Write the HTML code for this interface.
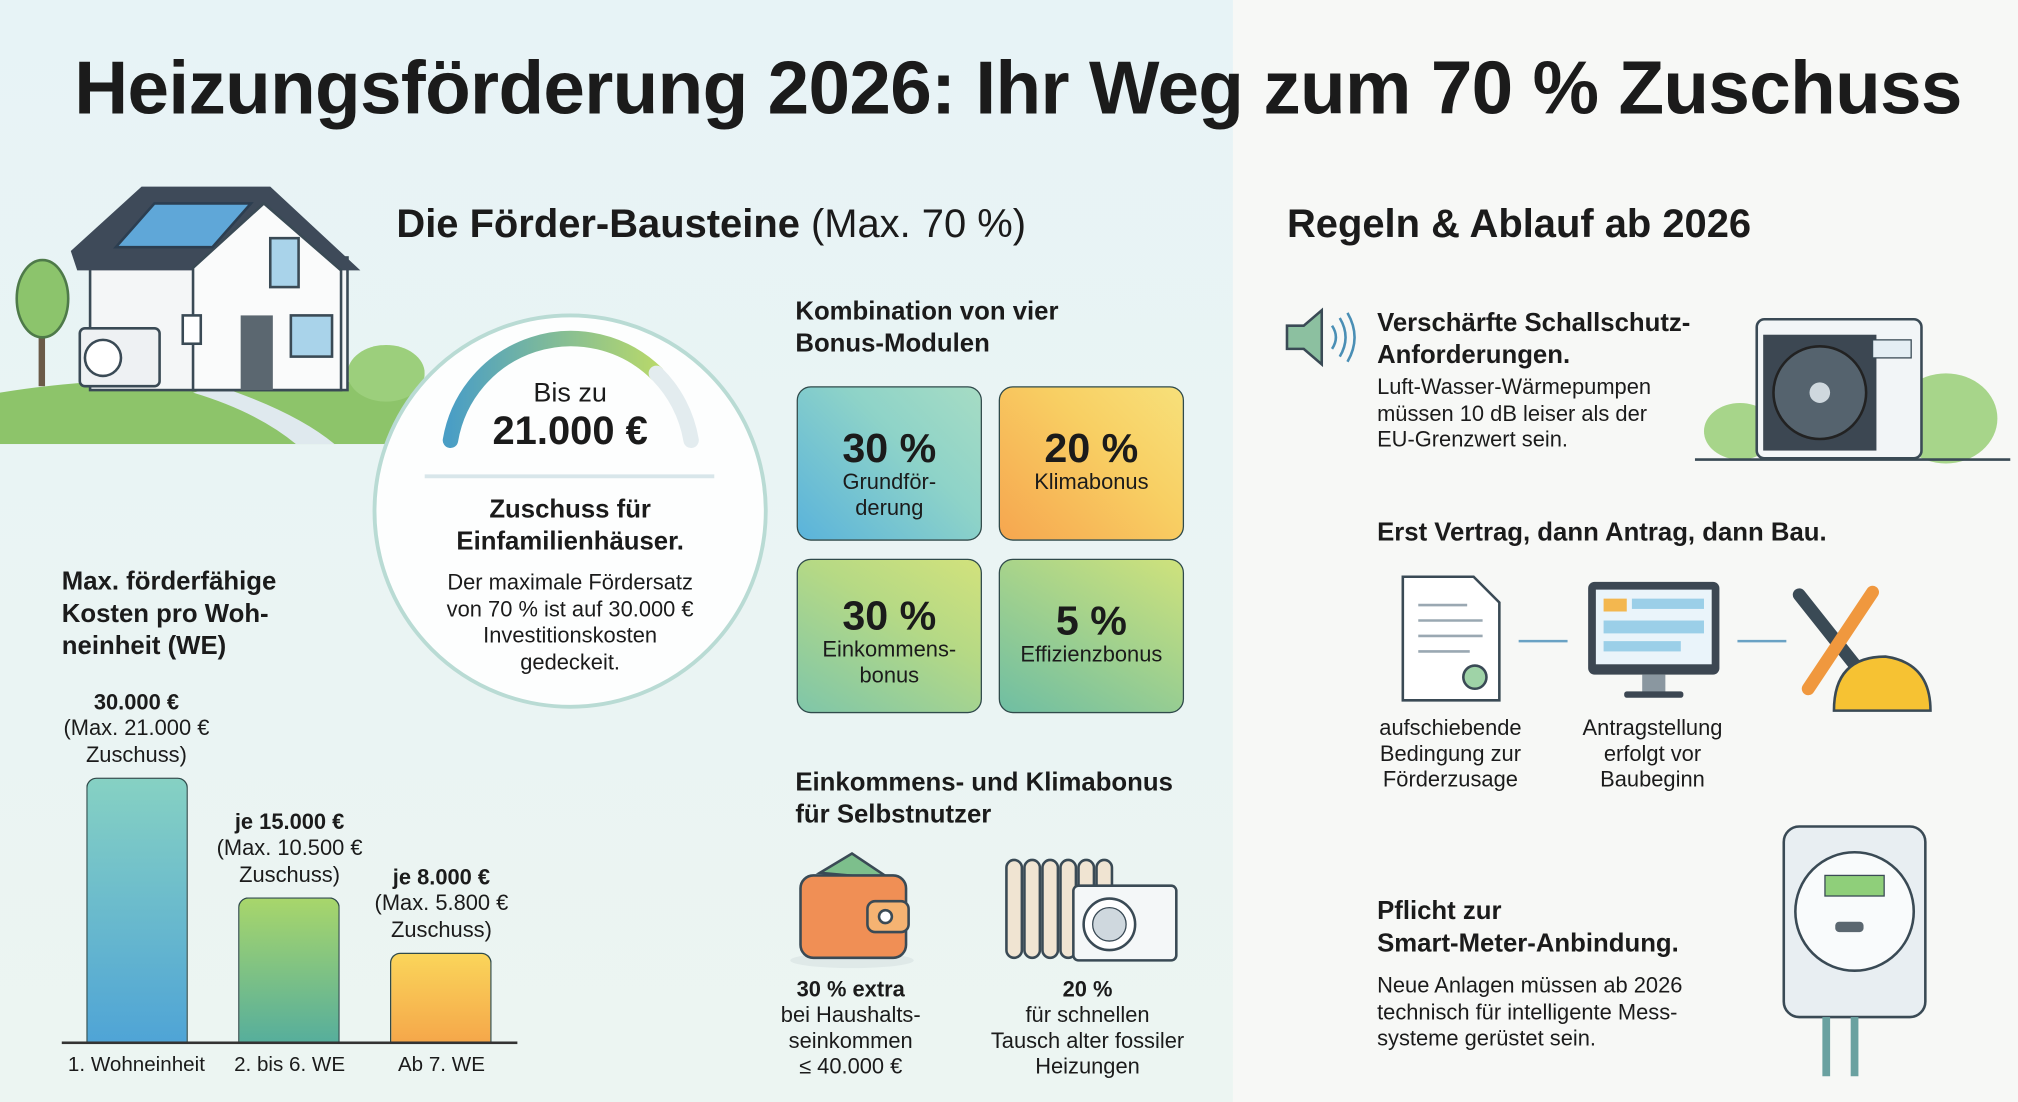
<!DOCTYPE html>
<html><head><meta charset="utf-8"><style>
html,body{margin:0;padding:0;width:2018px;height:1102px;overflow:hidden;background:#f6f7f5}
#s{position:absolute;left:0;top:0;width:1568px;height:856px;transform:scale(1.28699,1.28738);transform-origin:0 0;font-family:"Liberation Sans",sans-serif;color:#1b1b1b}
.a{position:absolute;white-space:nowrap}
.b{font-weight:bold}
.t20{font-size:20px;line-height:25px}
.t17{font-size:17px;line-height:20.5px}
.c{text-align:center;transform:translateX(-50%)}
.tile{position:absolute;width:144px;height:120px;border:1.5px solid #2f4a4a;border-radius:11px;box-sizing:border-box;text-align:center}
.tile .p{font-weight:bold;font-size:32px;line-height:34px}
.tile .l{font-size:17px;line-height:20px}
</style></head><body><div id="s">
<div class="a" style="left:0;top:0;width:958px;height:856px;background:linear-gradient(180deg,#e7f3f6 0%,#eaf4f3 60%,#ecf5f2 100%)"></div>
<div class="a" style="left:958px;top:0;width:610px;height:856px;background:#f7f8f6"></div>
<div class="a b" style="left:0;width:1582px;top:33px;text-align:center;font-size:58px;line-height:72px;letter-spacing:-0.5px">Heizungsförderung 2026: Ihr Weg zum 70 % Zuschuss</div>

<div class="a" style="left:308px;top:155px;font-size:31px;line-height:38px"><b>Die Förder-Bausteine</b> (Max. 70 %)</div>
<div class="a b" style="left:1000px;top:155px;font-size:31px;line-height:38px">Regeln &amp; Ablauf ab 2026</div>

<!-- house -->
<svg class="a" style="left:0;top:130px" width="330" height="215" viewBox="0 130 330 215">
<path d="M0 305 Q120 285 330 300 L330 345 L0 345 Z" fill="#8dc46a"/>
<path d="M170 300 Q230 320 260 345 L230 345 Q200 320 150 305Z" fill="#dfe9ee"/>
<ellipse cx="300" cy="290" rx="30" ry="22" fill="#9ccf7c"/>
<rect x="30" y="235" width="5" height="65" fill="#6b5a48"/>
<ellipse cx="33" cy="232" rx="20" ry="30" fill="#8cc46c" stroke="#4e7a49" stroke-width="2"/>
<rect x="70" y="200" width="200" height="103" fill="#f4f6f7" stroke="#3a4a55" stroke-width="2"/>
<path d="M55 195 L110 145 L210 145 L280 210 L265 210 L205 160 L150 210 L60 210Z" fill="#3e4a59"/>
<path d="M150 208 L205 158 L265 210 L265 303 L150 303Z" fill="#fafbfb" stroke="#3a4a55" stroke-width="2"/>
<path d="M90 192 L120 158 L195 158 L165 192Z" fill="#5fa7d8" stroke="#2c3e50" stroke-width="2"/>
<rect x="210" y="185" width="22" height="38" fill="#a9d3ea" stroke="#3a4a55" stroke-width="2"/>
<rect x="187" y="245" width="25" height="58" fill="#5b6770"/>
<rect x="226" y="245" width="32" height="32" fill="#a9d3ea" stroke="#3a4a55" stroke-width="2"/>
<rect x="62" y="255" width="62" height="45" rx="4" fill="#eef1f3" stroke="#3a4a55" stroke-width="2"/>
<circle cx="80" cy="278" r="14" fill="#fff" stroke="#3a4a55" stroke-width="2"/>
<rect x="142" y="245" width="14" height="22" fill="#fff" stroke="#3a4a55" stroke-width="2"/>
</svg>

<!-- circle -->
<svg class="a" style="left:285px;top:222px" width="318" height="350">
<defs><linearGradient id="g1" x1="0" x2="1"><stop offset="0" stop-color="#4a9ec5"/><stop offset="1" stop-color="#b7d86b"/></linearGradient></defs>
<circle cx="158" cy="175" r="152" fill="#fdfefe" stroke="#b9dbd4" stroke-width="3"/>
<path d="M65 120 A95 95 0 0 1 225 68" fill="none" stroke="url(#g1)" stroke-width="12" stroke-linecap="round"/>
<path d="M225 68 A95 95 0 0 1 252 120" fill="none" stroke="#e3ecef" stroke-width="12" stroke-linecap="round"/>
<line x1="45" y1="148" x2="270" y2="148" stroke="#d8e6ea" stroke-width="3"/>
</svg>
<div class="a c" style="left:443px;top:293px;font-size:21px;line-height:26px">Bis zu</div>
<div class="a c b" style="left:443px;top:316px;font-size:31px;line-height:38px">21.000 €</div>
<div class="a c b t20" style="left:443px;top:384px;text-align:center">Zuschuss für<br>Einfamilienhäuser.</div>
<div class="a c t17" style="left:443px;top:443px;text-align:center">Der maximale Fördersatz<br>von 70 % ist auf 30.000 €<br>Investitionskosten<br>gedeckeit.</div>

<div class="a b t20" style="left:618px;top:230px">Kombination von vier<br>Bonus-Modulen</div>
<div class="tile" style="left:619px;top:300px;background:linear-gradient(45deg,#5ab3db,#8ed3c8 60%,#a6dcc4)"><div class="p" style="margin-top:30px">30 %</div><div class="l">Grundför-<br>derung</div></div>
<div class="tile" style="left:776px;top:300px;background:linear-gradient(45deg,#f6a64f,#f8cf63 60%,#f7e07a)"><div class="p" style="margin-top:30px">20 %</div><div class="l">Klimabonus</div></div>
<div class="tile" style="left:619px;top:434px;background:linear-gradient(30deg,#7fc6a9,#b5d985 60%,#d2e27c)"><div class="p" style="margin-top:26px">30 %</div><div class="l">Einkommens-<br>bonus</div></div>
<div class="tile" style="left:776px;top:434px;background:linear-gradient(30deg,#6fbea3,#a9d48a 60%,#cfe27c)"><div class="p" style="margin-top:30px">5 %</div><div class="l">Effizienzbonus</div></div>

<div class="a b t20" style="left:618px;top:596px">Einkommens- und Klimabonus<br>für Selbstnutzer</div>
<svg class="a" style="left:612px;top:658px" width="320" height="100">
<ellipse cx="50" cy="88" rx="48" ry="6" fill="#dfe9e8"/>
<path d="M25 20 L50 5 L80 25Z" fill="#7dbf8c" stroke="#3a4a55" stroke-width="2"/>
<rect x="10" y="22" width="82" height="64" rx="10" fill="#f08f55" stroke="#3a4a55" stroke-width="2"/>
<rect x="62" y="42" width="32" height="24" rx="6" fill="#f5b372" stroke="#3a4a55" stroke-width="2"/>
<circle cx="76" cy="54" r="5" fill="#fff" stroke="#3a4a55" stroke-width="2"/>
<g fill="#f0e4d2" stroke="#3a4a55" stroke-width="2">
<rect x="170" y="10" width="12" height="76" rx="6"/><rect x="184" y="10" width="12" height="76" rx="6"/><rect x="198" y="10" width="12" height="76" rx="6"/><rect x="212" y="10" width="12" height="76" rx="6"/><rect x="226" y="10" width="12" height="76" rx="6"/><rect x="240" y="10" width="12" height="76" rx="6"/></g>
<rect x="222" y="30" width="80" height="58" rx="4" fill="#f4f7f8" stroke="#3a4a55" stroke-width="2"/>
<circle cx="250" cy="60" r="20" fill="#fff" stroke="#3a4a55" stroke-width="2"/>
<circle cx="250" cy="60" r="13" fill="#cfd8de" stroke="#3a4a55"/>
</svg>
<div class="a c b" style="left:661px;top:759px;font-size:17px;line-height:20px">30 % extra</div>
<div class="a c t17" style="left:661px;top:779px;text-align:center;line-height:20px">bei Haushalts-<br>seinkommen<br>≤ 40.000 €</div>
<div class="a c b" style="left:845px;top:759px;font-size:17px;line-height:20px">20 %</div>
<div class="a c t17" style="left:845px;top:779px;text-align:center;line-height:20px">für schnellen<br>Tausch alter fossiler<br>Heizungen</div>

<!-- bar chart -->
<div class="a b t20" style="left:48px;top:440px">Max. förderfähige<br>Kosten pro Woh-<br>neinheit (WE)</div>
<div class="a" style="left:67px;top:604px;width:79px;height:206px;border:1.5px solid #2f4a4a;border-bottom:none;border-radius:8px 8px 0 0;box-sizing:border-box;background:linear-gradient(180deg,#86d1c3,#4fa4d6)"></div>
<div class="a" style="left:185px;top:697px;width:79px;height:113px;border:1.5px solid #2f4a4a;border-bottom:none;border-radius:8px 8px 0 0;box-sizing:border-box;background:linear-gradient(180deg,#a8d66b,#56ae9c)"></div>
<div class="a" style="left:303px;top:740px;width:79px;height:70px;border:1.5px solid #2f4a4a;border-bottom:none;border-radius:8px 8px 0 0;box-sizing:border-box;background:linear-gradient(180deg,#fad55a,#f5a74a)"></div>
<div class="a" style="left:48px;top:809px;width:354px;height:2px;background:#333"></div>
<div class="a c b" style="left:106px;top:536px;font-size:17px">30.000 €</div>
<div class="a c t17" style="left:106px;top:556px;text-align:center">(Max. 21.000 €<br>Zuschuss)</div>
<div class="a c b" style="left:225px;top:629px;font-size:17px">je 15.000 €</div>
<div class="a c t17" style="left:225px;top:649px;text-align:center">(Max. 10.500 €<br>Zuschuss)</div>
<div class="a c b" style="left:343px;top:672px;font-size:17px">je 8.000 €</div>
<div class="a c t17" style="left:343px;top:692px;text-align:center">(Max. 5.800 €<br>Zuschuss)</div>
<div class="a c" style="left:106px;top:819px;font-size:16px">1. Wohneinheit</div>
<div class="a c" style="left:225px;top:819px;font-size:16px">2. bis 6. WE</div>
<div class="a c" style="left:343px;top:819px;font-size:16px">Ab 7. WE</div>

<!-- right side -->
<svg class="a" style="left:995px;top:235px" width="65" height="55">
<path d="M5 18 L18 18 L32 6 L32 48 L18 36 L5 36Z" fill="#8cc0a0" stroke="#3a4a55" stroke-width="2"/>
<path d="M40 18 Q46 27 40 36 M46 12 Q55 27 46 42 M52 8 Q63 27 52 46" fill="none" stroke="#4a8fb5" stroke-width="2"/>
</svg>
<div class="a b t20" style="left:1070px;top:239px">Verschärfte Schallschutz-<br>Anforderungen.</div>
<div class="a t17" style="left:1070px;top:291px">Luft-Wasser-Wärmepumpen<br>müssen 10 dB leiser als der<br>EU-Grenzwert sein.</div>
<svg class="a" style="left:1312px;top:240px" width="255" height="122">
<ellipse cx="200" cy="85" rx="40" ry="35" fill="#a7d58a"/>
<ellipse cx="40" cy="95" rx="28" ry="22" fill="#a7d58a"/>
<line x1="5" y1="117" x2="250" y2="117" stroke="#3a4a55" stroke-width="2"/>
<rect x="53" y="8" width="128" height="108" rx="6" fill="#f2f5f7" stroke="#3a4a55" stroke-width="2"/>
<rect x="58" y="20" width="88" height="90" fill="#3c4752"/>
<circle cx="102" cy="65" r="36" fill="#55636e" stroke="#222" stroke-width="2"/>
<circle cx="102" cy="65" r="8" fill="#cfd8de"/>
<rect x="143" y="24" width="30" height="14" fill="#e4eef4" stroke="#3a4a55"/>
</svg>

<div class="a b t20" style="left:1070px;top:402px">Erst Vertrag, dann Antrag, dann Bau.</div>
<svg class="a" style="left:1080px;top:440px" width="440" height="120">
<path d="M10 8 L65 8 L85 28 L85 104 L10 104Z" fill="#fff" stroke="#3a4a55" stroke-width="2"/>
<path d="M22 30 H60 M22 42 H72 M22 54 H72 M22 66 H62" stroke="#9aa8b2" stroke-width="2"/>
<circle cx="66" cy="86" r="9" fill="#9fd3a7" stroke="#3a4a55" stroke-width="2"/>
<line x1="100" y1="58" x2="138" y2="58" stroke="#6aa2c4" stroke-width="2"/>
<rect x="154" y="12" width="102" height="72" rx="5" fill="#3c4752"/>
<rect x="160" y="18" width="90" height="58" fill="#eaf4fa"/>
<rect x="166" y="25" width="18" height="10" fill="#f3b74f"/><rect x="188" y="25" width="56" height="8" fill="#9bcfe8"/>
<rect x="166" y="42" width="78" height="10" fill="#9bcfe8"/><rect x="166" y="58" width="60" height="8" fill="#9bcfe8"/>
<rect x="196" y="84" width="18" height="14" fill="#8a97a0"/><rect x="182" y="97" width="46" height="5" rx="2" fill="#3c4752"/>
<line x1="270" y1="58" x2="308" y2="58" stroke="#6aa2c4" stroke-width="2"/>
<path d="M318 22 L372 90" stroke="#3a4a55" stroke-width="10" stroke-linecap="round"/>
<path d="M375 20 L325 95" stroke="#f0983e" stroke-width="10" stroke-linecap="round"/>
<path d="M345 112 Q345 70 385 70 Q420 75 420 112Z" fill="#f6c233" stroke="#3a4a55" stroke-width="2"/>
</svg>
<div class="a c t17" style="left:1127px;top:556px;text-align:center;line-height:20px">aufschiebende<br>Bedingung zur<br>Förderzusage</div>
<div class="a c t17" style="left:1284px;top:556px;text-align:center;line-height:20px">Antragstellung<br>erfolgt vor<br>Baubeginn</div>

<svg class="a" style="left:1380px;top:638px" width="125" height="200">
<rect x="6" y="4" width="110" height="148" rx="12" fill="#e8eef2" stroke="#3a4a55" stroke-width="2"/>
<circle cx="61" cy="70" r="46" fill="#f9fbfc" stroke="#3a4a55" stroke-width="2"/>
<rect x="38" y="42" width="46" height="16" fill="#8fcf7a" stroke="#3a4a55"/>
<rect x="46" y="78" width="22" height="8" rx="3" fill="#5b6770"/>
<rect x="36" y="152" width="6" height="46" fill="#6aa1a0"/><rect x="58" y="152" width="6" height="46" fill="#6aa1a0"/>
</svg>
<div class="a b t20" style="left:1070px;top:696px">Pflicht zur<br>Smart-Meter-Anbindung.</div>
<div class="a t17" style="left:1070px;top:756px">Neue Anlagen müssen ab 2026<br>technisch für intelligente Mess-<br>systeme gerüstet sein.</div>
</div></body></html>
